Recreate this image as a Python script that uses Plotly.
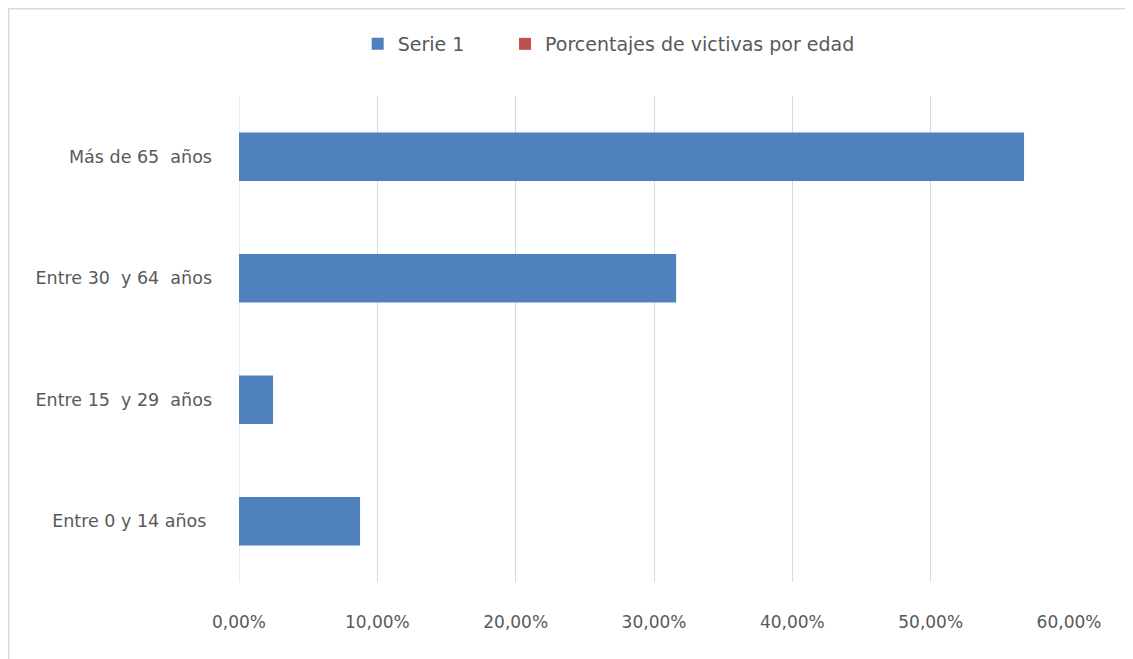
import plotly.graph_objects as go

categories = ["Entre 0 y 14 años ", "Entre 15  y 29  años", "Entre 30  y 64  años", "Más de 65  años"]
serie1 = [0.0875, 0.0246, 0.316, 0.5675]
porcentajes = [None, None, None, None]
tick_vals = [0, 0.1, 0.2, 0.3, 0.4, 0.5, 0.6]

font_family = "'DejaVu Sans', sans-serif"
grey = "#595959"

fig = go.Figure()
fig.add_trace(go.Bar(y=categories, x=serie1, orientation="h", name="Serie 1",
                     marker=dict(color="#4f81bd", line=dict(width=0)), width=0.4,
                     legend="legend", showlegend=True))
fig.add_trace(go.Bar(y=categories, x=porcentajes, orientation="h",
                     name="Porcentajes de victivas por edad",
                     marker=dict(color="#c0504d", line=dict(width=0)), width=0.4,
                     legend="legend2", showlegend=True))

leg_common = dict(orientation="h", y=1.107, xanchor="left", yanchor="middle",
                  font=dict(size=19, color=grey), itemwidth=30,
                  itemsizing="constant", bgcolor="rgba(0,0,0,0)", visible=True)

# page has 8px body margin: plot area placed so it lands at x 239..1069, y 96..582
fig.update_layout(
    width=1125, height=651,
    margin=dict(l=231, r=64, t=88, b=77),
    paper_bgcolor="white", plot_bgcolor="white",
    barmode="overlay",
    showlegend=True,
    separators=",.",
    font=dict(family=font_family, size=17, color=grey),
    legend=dict(x=0.143, **leg_common),
    legend2=dict(x=0.3205, **leg_common),
    xaxis=dict(range=[0, 0.6], tickvals=tick_vals, tickformat=".2%",
               showgrid=True, gridcolor="#d9d9d9", gridwidth=1,
               zeroline=False, showline=False, ticks="", ticklabelstandoff=28,
               tickfont=dict(size=17, color=grey), fixedrange=True),
    yaxis=dict(showgrid=False, zeroline=False, showline=False, ticks="",
               ticklabelstandoff=26, tickfont=dict(size=17.5, color=grey),
               categoryorder="array", categoryarray=categories),
    shapes=[dict(type="rect", xref="paper", yref="paper",
                 x0=(0.75 - 231) / 830, x1=1.2, y0=-0.3, y1=(574 - 0.75) / 486,
                 line=dict(color="#d9d9d9", width=1.5), fillcolor="rgba(0,0,0,0)",
                 layer="below"),
            dict(type="line", xref="x", yref="paper", x0=0, x1=0, y0=0, y1=1,
                 line=dict(color="#d9d9d9", width=1), layer="below")],
)

fig.write_html("out.html")
